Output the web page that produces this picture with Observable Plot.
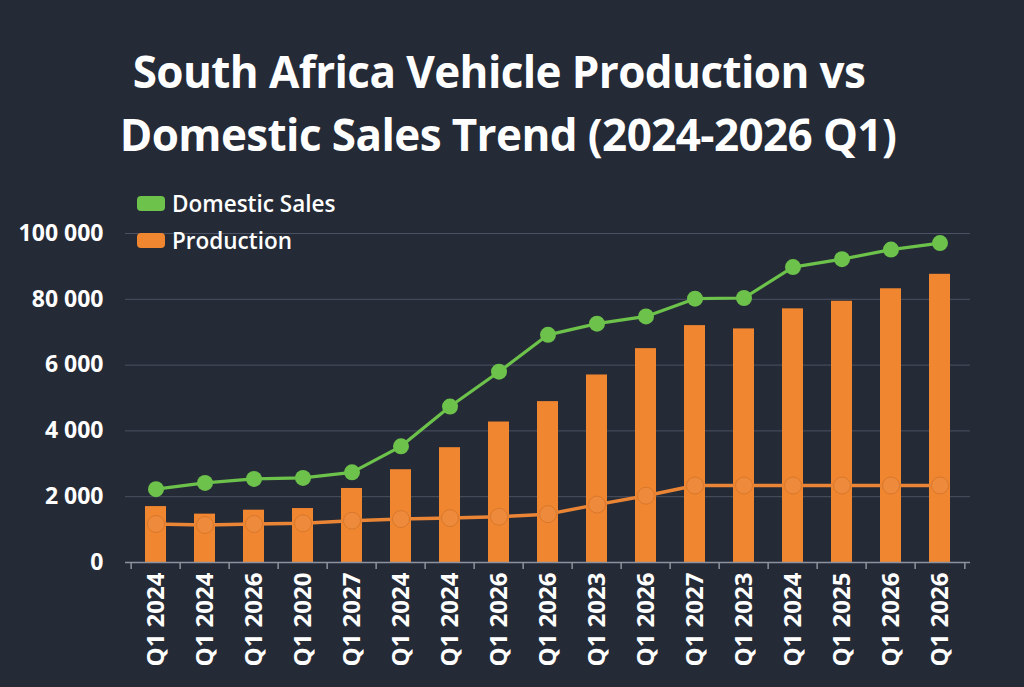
<!DOCTYPE html>
<html>
<head>
<meta charset="utf-8">
<script src="https://cdn.jsdelivr.net/npm/d3@7"></script>
<script src="https://cdn.jsdelivr.net/npm/@observablehq/plot@0.6"></script>
<style>
  html, body { margin: 0; padding: 0; background: #252a37; }
  #wrap { position: relative; width: 1024px; height: 687px; overflow: hidden; background: #252a37; font-family: "Open Sans", sans-serif; }
  #title { position: absolute; left: 0; top: 40px; width: 1016px; text-align: center; color: #fff; font-weight: 700; font-size: 44px; line-height: 63px; font-family: "Open Sans", sans-serif; letter-spacing: -0.6px; }
  #title .l1 { display: block; padding-right: 18px; }
  #title .l2 { display: block; }
  #chart { position: absolute; left: 0; top: 170px; }
  #legend { position: absolute; left: 137px; top: 185px; color: #fff; font-size: 22.5px; font-weight: 600; }
  .row { display: flex; align-items: center; height: 37px; }
  .sw { width: 28px; height: 15px; border-radius: 4px; margin-right: 7px; }
  #chart g[aria-label^="x-axis"] text { font-size: 24px; }
  #chart g[aria-label^="y-axis"] text { font-size: 23px; }
</style>
</head>
<body>
<div id="wrap">
  <div id="title"><span class="l1">South Africa Vehicle Production vs</span><span class="l2">Domestic Sales Trend (2024-2026 Q1)</span></div>
  <div id="chart"></div>
  <div id="legend"></div>
</div>
<script>
// ---- data ----
const xLabels = ["Q1 2024","Q1 2024","Q1 2026","Q1 2020","Q1 2027","Q1 2024","Q1 2024","Q1 2026","Q1 2026","Q1 2023","Q1 2026","Q1 2027","Q1 2023","Q1 2024","Q1 2025","Q1 2026","Q1 2026"];
const domesticSales = [22300, 24200, 25400, 25700, 27400, 35300, 47400, 58000, 69200, 72600, 74800, 80200, 80400, 89800, 92200, 95100, 97100];
const production = [17000, 14700, 15900, 16400, 22500, 28200, 34900, 42700, 48900, 57000, 65000, 72000, 71000, 77100, 79400, 83200, 87600];
const productionLine = [11700, 11400, 11700, 11900, 12700, 13200, 13500, 13900, 14700, 17600, 20300, 23400, 23400, 23400, 23400, 23400, 23400];
const yTicks = [0, 20000, 40000, 60000, 80000, 100000];
const yTickLabels = ["0", "2 000", "4 000", "6 000", "80 000", "100 000"];
const legendItems = [["Domestic Sales", "#6cc24a"], ["Production", "#f0862f"]];

// ---- build ----
const keys = xLabels.map((_, i) => String(i));
const data = keys.map((k, i) => ({key: k, sales: domesticSales[i], prod: production[i], line: productionLine[i]}));
const yLabelMap = new Map(yTicks.map((t, i) => [t, yTickLabels[i]]));

const W = 1024, H = 517, mL = 125, mR = 54, mT = 63, mB = 125;
const step = (W - mL - mR) / keys.length;

const chart = Plot.plot({
  width: W, height: H,
  marginLeft: mL, marginRight: mR, marginTop: mT, marginBottom: mB,
  style: {background: "transparent", color: "#ffffff", fontFamily: "'Open Sans', sans-serif", fontSize: "23px", fontWeight: "700"},
  x: {type: "band", domain: keys, paddingInner: 0.58, paddingOuter: 0.29, tickSize: 0, tickPadding: 10, tickRotate: -90, tickFormat: d => xLabels[+d], label: null},
  y: {domain: [0, 100000], ticks: yTicks, tickFormat: d => yLabelMap.get(d), tickSize: 0, tickPadding: 22, label: null},
  marks: [
    Plot.ruleY(yTicks.slice(1), {stroke: "#4a5162", strokeWidth: 1}),
    Plot.barY(data, {x: "key", y: "prod", fill: "#f0862f"}),
    Plot.ruleY([0], {stroke: "#8d939e", strokeWidth: 1.5}),
    Plot.ruleX(keys, {x: d => d, y1: 0, y2: 0, insetTop: 7, dx: -step / 2, stroke: "#8d939e", strokeWidth: 1.5}),
    Plot.ruleX([keys[keys.length - 1]], {x: d => d, y1: 0, y2: 0, insetTop: 7, dx: step / 2, stroke: "#8d939e", strokeWidth: 1.5}),
    Plot.lineY(data, {x: "key", y: "line", stroke: "#ea8535", strokeWidth: 3.5}),
    Plot.dot(data, {x: "key", y: "line", r: 8.5, fill: "#ee8a3b", stroke: "#d9782c", strokeWidth: 1}),
    Plot.lineY(data, {x: "key", y: "sales", stroke: "#6cc24a", strokeWidth: 3.2}),
    Plot.dot(data, {x: "key", y: "sales", r: 8, fill: "#6cc24a"})
  ]
});
document.getElementById("chart").appendChild(chart);

const legend = document.getElementById("legend");
for (const [name, color] of legendItems) {
  const row = document.createElement("div");
  row.className = "row";
  const sw = document.createElement("div");
  sw.className = "sw";
  sw.style.background = color;
  const t = document.createElement("span");
  t.textContent = name;
  row.appendChild(sw);
  row.appendChild(t);
  legend.appendChild(row);
}
</script>
</body>
</html>
